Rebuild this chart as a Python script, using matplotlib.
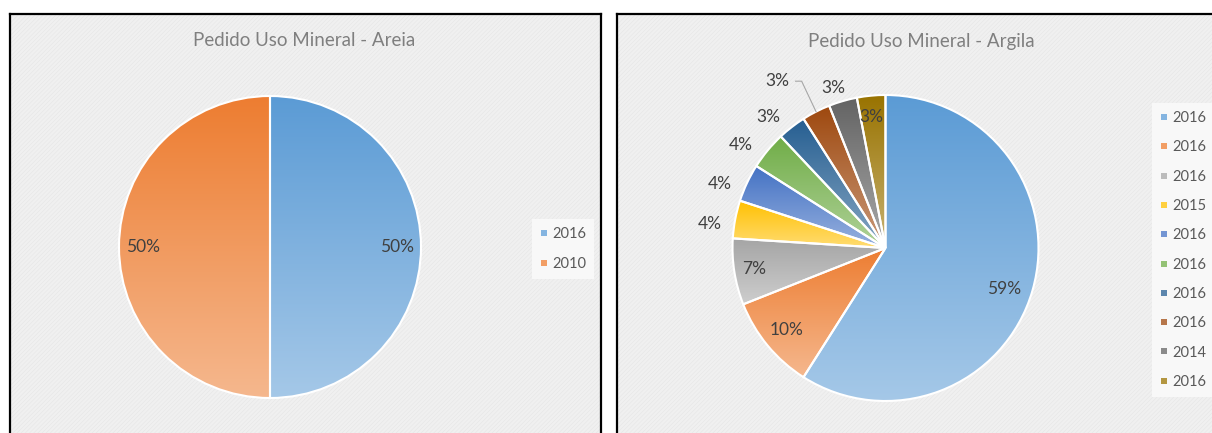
import numpy as np
import matplotlib.pyplot as plt
from matplotlib.colors import to_rgb
from matplotlib.lines import Line2D
from matplotlib.patches import Rectangle

plt.rcParams['font.family'] = ['Lato', 'DejaVu Sans']
plt.rcParams['hatch.linewidth'] = 0.4

# Areia requests by year
areia_years = ['2016', '2010']
areia_pct = [50, 50]
areia_colors = ['#5B9BD5', '#ED7D31']

# Argila requests by year
argila_years = ['2016', '2016', '2016', '2015', '2016',
                '2016', '2016', '2016', '2014', '2016']
argila_pct = [59, 10, 7, 4, 4, 4, 3, 3, 3, 3]
argila_colors = ['#5B9BD5', '#ED7D31', '#A5A5A5', '#FFC000', '#4472C4',
                 '#70AD47', '#255E91', '#9E480E', '#636363', '#997300']

W, H = 1212, 433
TXT = '#404040'
GRAY = '#595959'


def lighten(c, f):
    c = np.array(to_rgb(c))
    return c + (1 - c) * f


def panel(x0, x1):
    # grey framed backdrop, bottom edge runs off the figure
    ax = fig.add_axes([x0 / W, -0.05, (x1 - x0) / W, 1.05 - 14 / H])
    ax.set_facecolor('#F0F0F0')
    ax.set_xticks([])
    ax.set_yticks([])
    for sp in ax.spines.values():
        sp.set_linewidth(1.6)
        sp.set_color('black')
    ax.add_patch(Rectangle((0, 0), 1, 1, transform=ax.transAxes,
                           facecolor='none', edgecolor='#E6E6E6',
                           hatch='////////', lw=0))
    ax.set_zorder(0)
    return ax


def pie_axes(cx, cy, r):
    ax = fig.add_axes([(cx - r) / W, 1 - (cy + r) / H, 2 * r / W, 2 * r / H])
    ax.set_zorder(1)
    ax.patch.set_visible(False)
    return ax


def gradient_pie(ax, vals, colors):
    wedges, _ = ax.pie(vals, colors=colors, startangle=90,
                       counterclock=False, radius=1,
                       wedgeprops=dict(edgecolor='white', linewidth=1.5))
    for w, c in zip(wedges, colors):
        ext = w.get_path().get_extents()
        t = np.linspace(0, 1, 256)[:, None, None]
        img = np.array(to_rgb(c)) * (1 - t) + lighten(c, 0.45) * t
        im = ax.imshow(img, extent=(ext.x0, ext.x1, ext.y0, ext.y1),
                       origin='upper', aspect='auto', zorder=1)
        im.set_clip_path(w)
        w.set_facecolor('none')
        w.set_zorder(2)
    ax.set_xlim(-1, 1)
    ax.set_ylim(-1, 1)
    ax.set_aspect('equal')
    ax.axis('off')
    return wedges


def mid_angle(w):
    return np.deg2rad((w.theta1 + w.theta2) / 2)


def legend(labels, colors, x, y):
    handles = [Line2D([], [], ls='', marker='s', markersize=4.5,
                      markerfacecolor=lighten(c, 0.25), markeredgewidth=0)
               for c in colors]
    lg = fig.legend(handles, labels, loc='center left',
                    bbox_to_anchor=(x / W, 1 - y / H), frameon=True,
                    fancybox=False, facecolor='#F8F8F8', edgecolor='none',
                    framealpha=1, fontsize=10.5, labelcolor=GRAY,
                    handlelength=0.5, handletextpad=0.35,
                    labelspacing=1.05, borderpad=0.55, borderaxespad=0)
    lg.set_zorder(3)


fig = plt.figure(figsize=(W / 100, H / 100), dpi=100)

# left: Areia
panel(10, 601)
fig.text(304 / W, 1 - 41 / H, 'Pedido Uso Mineral - Areia',
         ha='center', va='center', fontsize=13.5, color='#7F7F7F')
ax1 = pie_axes(270, 247, 151)
wedges = gradient_pie(ax1, areia_pct, areia_colors)
for w, p in zip(wedges, areia_pct):
    a = mid_angle(w)
    ax1.text(0.84 * np.cos(a), 0.84 * np.sin(a), f'{p}%', ha='center',
             va='center', fontsize=12.5, color=TXT)
legend(areia_years, areia_colors, 532, 249)

# right: Argila
panel(617, 1225)
fig.text(921 / W, 1 - 41 / H, 'Pedido Uso Mineral - Argila',
         ha='center', va='center', fontsize=13.5, color='#7F7F7F')
ax2 = pie_axes(885.5, 248, 153)
wedges = gradient_pie(ax2, argila_pct, argila_colors)
label_r = [0.82, 0.84, 0.87, 1.16, 1.16, 1.16, 1.15, 1.3, 1.1, 0.86]
label_shift = [-3, 0, 0, 3, 4, 4, 4, 6, 2, 1]
for i, (w, p) in enumerate(zip(wedges, argila_pct)):
    a = mid_angle(w) + np.deg2rad(label_shift[i])
    lx, ly = label_r[i] * np.cos(a), label_r[i] * np.sin(a)
    ax2.text(lx, ly, f'{p}%', ha='center', va='center', fontsize=12.5,
             color=TXT, zorder=4)
    if label_r[i] > 1.25:
        # leader line back to the wedge rim
        m = mid_angle(w)
        ax2.plot([lx + 0.12, lx + 0.16, np.cos(m)], [ly, ly, np.sin(m)],
                 color='#A6A6A6', lw=0.8, zorder=4, clip_on=False)
legend(argila_years, argila_colors, 1152, 250)

fig.savefig('out.png', dpi=100, facecolor='white')
